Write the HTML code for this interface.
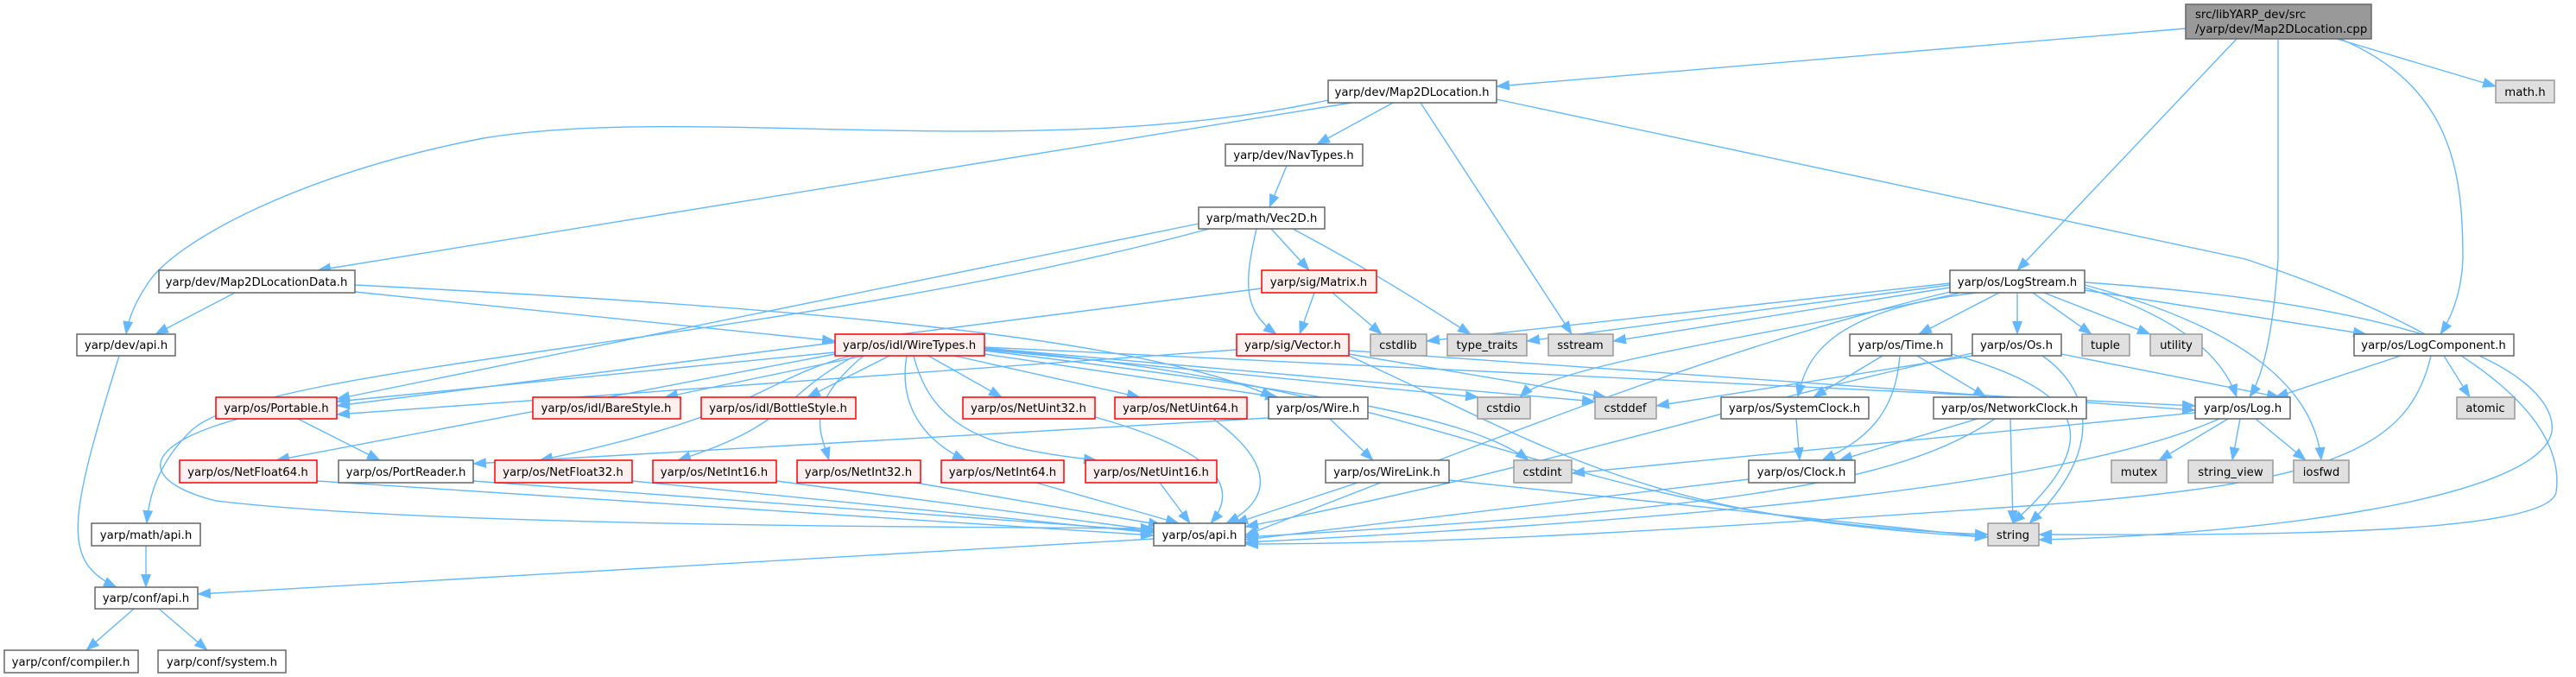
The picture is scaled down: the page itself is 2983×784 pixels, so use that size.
<!DOCTYPE html>
<html><head><meta charset="utf-8"><style>
html,body{margin:0;padding:0;background:#fff;}
svg{display:block;}
text{font-family:"DejaVu Sans","Liberation Sans",sans-serif;font-size:13.3px;fill:#000;text-anchor:middle;}
.w{fill:#fff;stroke:#666;stroke-width:1.5}
.r{fill:#fff0f0;stroke:#f00;stroke-width:1.5}
.g{fill:#e0e0e0;stroke:#999;stroke-width:1.5}
.root{fill:#999;stroke:#666;stroke-width:1.5}
.e path{fill:none;stroke:#63b8ff;stroke-width:1.4;marker-end:url(#a)}
</style></head><body>
<svg width="2983" height="784" viewBox="0 0 2983 784" xmlns="http://www.w3.org/2000/svg">
<defs><marker id="a" markerUnits="userSpaceOnUse" markerWidth="16" markerHeight="12" refX="15" refY="6" orient="auto"><path d="M0,0 L16,6 L0,12 Z" fill="#63b8ff"/></marker></defs>
<g class="e">
<path d="M2531 33 L1733 100"/>
<path d="M2590 45 L2336 313"/>
<path d="M2638 45 L2638 300 Q2630 420 2605 460"/>
<path d="M2706 45 L2890 100"/>
<path d="M2710 45 C2840 100 2852 200 2852 300 Q2850 350 2826 387"/>
<path d="M1613 119 L1525 167"/>
<path d="M1645 119 L1820 387"/>
<path d="M1565 119 L368 313"/>
<path d="M1538 116 C1200 190 800 120 560 160 C350 200 200 280 170 330 Q150 360 146 387"/>
<path d="M1733 115 L2600 300 C2900 400 2970 500 2960 570 C2950 620 2600 620 2361 619"/>
<path d="M1490 192 L1470 240"/>
<path d="M1472 265 L1516 313"/>
<path d="M1455 265 C1440 330 1440 360 1478 387"/>
<path d="M1497 265 C1600 320 1660 360 1703 387"/>
<path d="M1388 259 L390 462"/>
<path d="M1400 265 C900 400 300 420 220 500 C180 540 172 580 170 606"/>
<path d="M1522 339 L1505 387"/>
<path d="M1543 339 L1600 387"/>
<path d="M1461 334 L390 470"/>
<path d="M272 339 L180 387"/>
<path d="M411 338 L967 395"/>
<path d="M411 330 C800 350 1300 380 1475 460"/>
<path d="M138 412 C80 600 70 650 135 680"/>
<path d="M967 408 L390 465"/>
<path d="M1000 412 L770 460"/>
<path d="M1030 412 L935 460"/>
<path d="M1075 412 L1160 460"/>
<path d="M1105 412 L1320 460"/>
<path d="M1140 410 L1480 460"/>
<path d="M1140 405 L1712 460"/>
<path d="M1140 403 L1847 465"/>
<path d="M1140 402 L2542 470"/>
<path d="M1140 404 C1700 450 1800 600 2302 619"/>
<path d="M1140 406 C1500 450 1700 480 1770 533"/>
<path d="M967 410 L320 533"/>
<path d="M985 412 C880 440 880 480 625 533"/>
<path d="M990 412 C900 460 920 490 785 533"/>
<path d="M1000 412 C930 470 950 500 960 533"/>
<path d="M1050 412 C1040 470 1070 510 1118 533"/>
<path d="M1058 412 C1080 500 1150 520 1270 533"/>
<path d="M1432 405 L390 480"/>
<path d="M1562 410 L1860 460"/>
<path d="M1562 406 L2542 475"/>
<path d="M1562 412 C1800 520 1900 600 2302 622"/>
<path d="M345 485 L440 533"/>
<path d="M276 485 C150 520 170 560 250 580 C500 610 1100 610 1336 612"/>
<path d="M548 557 L1336 615"/>
<path d="M367 557 L1336 620"/>
<path d="M732 557 L1336 617"/>
<path d="M899 557 L1336 614"/>
<path d="M1060 559 L1345 608"/>
<path d="M1200 559 L1365 606"/>
<path d="M1343 559 L1378 606"/>
<path d="M1268 483 C1400 520 1440 560 1402 606"/>
<path d="M1405 485 C1480 540 1470 580 1420 606"/>
<path d="M1540 485 L1590 533"/>
<path d="M1469 484 L548 537"/>
<path d="M1572 559 L1430 606"/>
<path d="M1678 556 L2302 622"/>
<path d="M1336 624 L229 688"/>
<path d="M169 632 L169 680"/>
<path d="M155 705 L100 753"/>
<path d="M184 705 L240 753"/>
<path d="M2315 339 L2222 387"/>
<path d="M2336 339 L2336 387"/>
<path d="M2354 339 L2422 387"/>
<path d="M2367 339 L2490 387"/>
<path d="M2414 336 L2740 387"/>
<path d="M2414 333 C2500 360 2570 400 2590 460"/>
<path d="M2414 330 C2600 380 2680 450 2688 533"/>
<path d="M2414 327 C2900 360 2960 460 2955 500 C2940 580 2600 620 2361 625"/>
<path d="M2258 338 C2000 400 1750 500 1442 620"/>
<path d="M2258 328 L1652 395"/>
<path d="M2258 330 L1768 395"/>
<path d="M2258 333 L1868 395"/>
<path d="M2270 339 C2100 380 1800 420 1760 460"/>
<path d="M2290 339 C2110 360 2090 420 2082 460"/>
<path d="M2180 412 L2100 460"/>
<path d="M2220 412 L2300 460"/>
<path d="M2200 412 C2195 480 2160 510 2110 533"/>
<path d="M2260 410 C2400 450 2450 500 2330 606"/>
<path d="M2284 409 C2000 470 1800 540 1442 610"/>
<path d="M2365 412 C2420 450 2440 520 2350 606"/>
<path d="M2387 410 L2640 460"/>
<path d="M2284 412 L1918 470"/>
<path d="M2080 485 L2084 533"/>
<path d="M2290 485 L2130 533"/>
<path d="M2328 485 L2331 606"/>
<path d="M2310 485 C2200 560 2000 590 1442 622"/>
<path d="M2025 555 L1442 625"/>
<path d="M2580 485 L2500 533"/>
<path d="M2594 485 L2585 533"/>
<path d="M2612 485 L2670 533"/>
<path d="M2570 485 C2400 560 2000 600 1442 628"/>
<path d="M2542 478 L1820 548"/>
<path d="M2780 412 L2635 460"/>
<path d="M2830 412 L2860 460"/>
<path d="M2815 412 C2790 520 2700 560 2360 585 C2000 610 1700 630 1442 630"/>
</g>
<g>
<rect class="root" x="2531" y="5" width="215" height="40"/><text x="2638" y="21" style="text-anchor:start" transform="translate(-96,0)">src/libYARP_dev/src</text><text x="2542" y="38" style="text-anchor:start">/yarp/dev/Map2DLocation.cpp</text>
<rect class="w" x="1538" y="93" width="195" height="26"/><text x="1635" y="111">yarp/dev/Map2DLocation.h</text>
<rect class="g" x="2890" y="93" width="68" height="26"/><text x="2924" y="111">math.h</text>
<rect class="w" x="1419" y="167" width="159" height="25"/><text x="1498" y="184">yarp/dev/NavTypes.h</text>
<rect class="w" x="1388" y="240" width="146" height="25"/><text x="1461" y="257">yarp/math/Vec2D.h</text>
<rect class="w" x="184" y="313" width="227" height="26"/><text x="297" y="331">yarp/dev/Map2DLocationData.h</text>
<rect class="r" x="1461" y="313" width="133" height="26"/><text x="1527" y="331">yarp/sig/Matrix.h</text>
<rect class="w" x="2258" y="313" width="156" height="26"/><text x="2336" y="331">yarp/os/LogStream.h</text>
<rect class="w" x="89" y="387" width="114" height="25"/><text x="146" y="404">yarp/dev/api.h</text>
<rect class="r" x="967" y="387" width="173" height="25"/><text x="1053" y="404">yarp/os/idl/WireTypes.h</text>
<rect class="r" x="1432" y="387" width="130" height="25"/><text x="1497" y="404">yarp/sig/Vector.h</text>
<rect class="g" x="1587" y="387" width="65" height="25"/><text x="1619" y="404">cstdlib</text>
<rect class="g" x="1676" y="387" width="92" height="25"/><text x="1722" y="404">type_traits</text>
<rect class="g" x="1793" y="387" width="75" height="25"/><text x="1830" y="404">sstream</text>
<rect class="w" x="2142" y="387" width="118" height="25"/><text x="2201" y="404">yarp/os/Time.h</text>
<rect class="w" x="2284" y="387" width="103" height="25"/><text x="2335" y="404">yarp/os/Os.h</text>
<rect class="g" x="2411" y="387" width="55" height="25"/><text x="2438" y="404">tuple</text>
<rect class="g" x="2490" y="387" width="60" height="25"/><text x="2520" y="404">utility</text>
<rect class="w" x="2726" y="387" width="185" height="25"/><text x="2818" y="404">yarp/os/LogComponent.h</text>
<rect class="r" x="250" y="460" width="140" height="25"/><text x="320" y="477">yarp/os/Portable.h</text>
<rect class="r" x="617" y="460" width="171" height="25"/><text x="702" y="477">yarp/os/idl/BareStyle.h</text>
<rect class="r" x="812" y="460" width="179" height="25"/><text x="901" y="477">yarp/os/idl/BottleStyle.h</text>
<rect class="r" x="1115" y="460" width="153" height="25"/><text x="1191" y="477">yarp/os/NetUint32.h</text>
<rect class="r" x="1291" y="460" width="153" height="25"/><text x="1367" y="477">yarp/os/NetUint64.h</text>
<rect class="w" x="1469" y="460" width="115" height="25"/><text x="1526" y="477">yarp/os/Wire.h</text>
<rect class="g" x="1711" y="460" width="61" height="25"/><text x="1741" y="477">cstdio</text>
<rect class="g" x="1847" y="460" width="71" height="25"/><text x="1882" y="477">cstddef</text>
<rect class="w" x="1993" y="460" width="171" height="25"/><text x="2078" y="477">yarp/os/SystemClock.h</text>
<rect class="w" x="2239" y="460" width="177" height="25"/><text x="2327" y="477">yarp/os/NetworkClock.h</text>
<rect class="w" x="2542" y="460" width="110" height="25"/><text x="2597" y="477">yarp/os/Log.h</text>
<rect class="g" x="2845" y="460" width="67" height="25"/><text x="2878" y="477">atomic</text>
<rect class="r" x="208" y="533" width="159" height="26"/><text x="287" y="551">yarp/os/NetFloat64.h</text>
<rect class="w" x="392" y="533" width="156" height="26"/><text x="470" y="551">yarp/os/PortReader.h</text>
<rect class="r" x="573" y="533" width="159" height="26"/><text x="652" y="551">yarp/os/NetFloat32.h</text>
<rect class="r" x="756" y="533" width="143" height="26"/><text x="827" y="551">yarp/os/NetInt16.h</text>
<rect class="r" x="923" y="533" width="143" height="26"/><text x="994" y="551">yarp/os/NetInt32.h</text>
<rect class="r" x="1090" y="533" width="142" height="26"/><text x="1161" y="551">yarp/os/NetInt64.h</text>
<rect class="r" x="1257" y="533" width="152" height="26"/><text x="1333" y="551">yarp/os/NetUint16.h</text>
<rect class="w" x="1535" y="533" width="143" height="26"/><text x="1606" y="551">yarp/os/WireLink.h</text>
<rect class="g" x="1753" y="533" width="67" height="26"/><text x="1786" y="551">cstdint</text>
<rect class="w" x="2025" y="533" width="123" height="26"/><text x="2086" y="551">yarp/os/Clock.h</text>
<rect class="g" x="2445" y="533" width="64" height="26"/><text x="2477" y="551">mutex</text>
<rect class="g" x="2534" y="533" width="98" height="26"/><text x="2583" y="551">string_view</text>
<rect class="g" x="2656" y="533" width="64" height="26"/><text x="2688" y="551">iosfwd</text>
<rect class="w" x="106" y="606" width="126" height="26"/><text x="169" y="624">yarp/math/api.h</text>
<rect class="w" x="1336" y="606" width="106" height="26"/><text x="1389" y="624">yarp/os/api.h</text>
<rect class="g" x="2302" y="606" width="59" height="26"/><text x="2331" y="624">string</text>
<rect class="w" x="110" y="680" width="119" height="25"/><text x="169" y="697">yarp/conf/api.h</text>
<rect class="w" x="5" y="753" width="155" height="26"/><text x="82" y="771">yarp/conf/compiler.h</text>
<rect class="w" x="183" y="753" width="148" height="26"/><text x="257" y="771">yarp/conf/system.h</text>
</g>
</svg>
</body></html>
